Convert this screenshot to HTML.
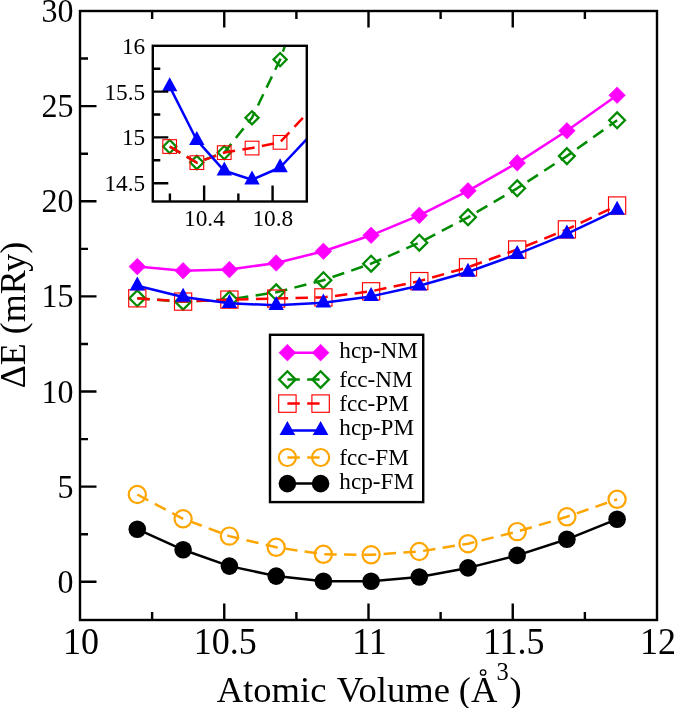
<!DOCTYPE html><html><head><meta charset="utf-8"><style>html,body{margin:0;padding:0;background:#fff;overflow:hidden}svg{display:block;will-change:transform}text{font-family:"Liberation Serif",serif;fill:#000}</style></head><body>
<svg width="675" height="708" viewBox="0 0 675 708">
<defs><clipPath id="cm"><rect x="80" y="11" width="577" height="609"/></clipPath><clipPath id="ci"><rect x="152.8" y="45.8" width="154" height="155.7"/></clipPath></defs>
<g clip-path="url(#cm)">
<polyline points="137.3,266.6 183.1,270.7 229.4,269.6 276.2,263.0 323.4,251.3 371.1,235.3 419.3,215.4 468.0,190.8 517.2,162.9 566.9,130.8 617.1,95.2" fill="none" stroke="#ff00ff" stroke-width="2.5" stroke-linejoin="round"/>
<path d="M137.3 258.3L145.6 266.6L137.3 274.9L129.0 266.6Z" fill="#ff00ff" stroke="#ff00ff" stroke-width="0.6"/>
<path d="M183.1 262.4L191.4 270.7L183.1 279.0L174.8 270.7Z" fill="#ff00ff" stroke="#ff00ff" stroke-width="0.6"/>
<path d="M229.4 261.3L237.7 269.6L229.4 277.9L221.1 269.6Z" fill="#ff00ff" stroke="#ff00ff" stroke-width="0.6"/>
<path d="M276.2 254.7L284.5 263.0L276.2 271.3L267.9 263.0Z" fill="#ff00ff" stroke="#ff00ff" stroke-width="0.6"/>
<path d="M323.4 243.0L331.7 251.3L323.4 259.6L315.1 251.3Z" fill="#ff00ff" stroke="#ff00ff" stroke-width="0.6"/>
<path d="M371.1 227.0L379.4 235.3L371.1 243.6L362.8 235.3Z" fill="#ff00ff" stroke="#ff00ff" stroke-width="0.6"/>
<path d="M419.3 207.1L427.6 215.4L419.3 223.7L411.0 215.4Z" fill="#ff00ff" stroke="#ff00ff" stroke-width="0.6"/>
<path d="M468.0 182.5L476.3 190.8L468.0 199.1L459.7 190.8Z" fill="#ff00ff" stroke="#ff00ff" stroke-width="0.6"/>
<path d="M517.2 154.6L525.5 162.9L517.2 171.2L508.9 162.9Z" fill="#ff00ff" stroke="#ff00ff" stroke-width="0.6"/>
<path d="M566.9 122.5L575.2 130.8L566.9 139.1L558.6 130.8Z" fill="#ff00ff" stroke="#ff00ff" stroke-width="0.6"/>
<path d="M617.1 86.9L625.4 95.2L617.1 103.5L608.8 95.2Z" fill="#ff00ff" stroke="#ff00ff" stroke-width="0.6"/>
<polyline points="137.3,298.3 183.1,301.7 229.4,299.5 276.2,292.3 323.4,280.2 371.1,263.7 419.3,242.7 468.0,217.3 517.2,188.3 566.9,156.1 617.1,120.3" fill="none" stroke="#008b00" stroke-width="2.5" stroke-dasharray="12.4 7.4" stroke-linejoin="round"/>
<path d="M137.3 290.4L145.2 298.3L137.3 306.2L129.4 298.3Z" fill="none" stroke="#008b00" stroke-width="2.3"/>
<path d="M183.1 293.8L191.0 301.7L183.1 309.6L175.2 301.7Z" fill="none" stroke="#008b00" stroke-width="2.3"/>
<path d="M229.4 291.6L237.3 299.5L229.4 307.4L221.5 299.5Z" fill="none" stroke="#008b00" stroke-width="2.3"/>
<path d="M276.2 284.4L284.1 292.3L276.2 300.2L268.3 292.3Z" fill="none" stroke="#008b00" stroke-width="2.3"/>
<path d="M323.4 272.3L331.3 280.2L323.4 288.1L315.5 280.2Z" fill="none" stroke="#008b00" stroke-width="2.3"/>
<path d="M371.1 255.8L379.0 263.7L371.1 271.6L363.2 263.7Z" fill="none" stroke="#008b00" stroke-width="2.3"/>
<path d="M419.3 234.8L427.2 242.7L419.3 250.6L411.4 242.7Z" fill="none" stroke="#008b00" stroke-width="2.3"/>
<path d="M468.0 209.4L475.9 217.3L468.0 225.2L460.1 217.3Z" fill="none" stroke="#008b00" stroke-width="2.3"/>
<path d="M517.2 180.4L525.1 188.3L517.2 196.2L509.3 188.3Z" fill="none" stroke="#008b00" stroke-width="2.3"/>
<path d="M566.9 148.2L574.8 156.1L566.9 164.0L559.0 156.1Z" fill="none" stroke="#008b00" stroke-width="2.3"/>
<path d="M617.1 112.4L625.0 120.3L617.1 128.2L609.2 120.3Z" fill="none" stroke="#008b00" stroke-width="2.3"/>
<polyline points="137.3,298.3 183.1,301.6 229.4,299.6 276.2,298.6 323.4,297.4 371.1,291.3 419.3,281.1 468.0,267.3 517.2,249.5 566.9,229.4 617.1,205.5" fill="none" stroke="#ff0000" stroke-width="2.5" stroke-dasharray="12.4 7.4" stroke-linejoin="round"/>
<rect x="128.7" y="289.7" width="17.2" height="17.2" fill="none" stroke="#ff0000" stroke-width="1.15"/>
<rect x="174.5" y="293.0" width="17.2" height="17.2" fill="none" stroke="#ff0000" stroke-width="1.15"/>
<rect x="220.8" y="291.0" width="17.2" height="17.2" fill="none" stroke="#ff0000" stroke-width="1.15"/>
<rect x="267.6" y="290.0" width="17.2" height="17.2" fill="none" stroke="#ff0000" stroke-width="1.15"/>
<rect x="314.8" y="288.8" width="17.2" height="17.2" fill="none" stroke="#ff0000" stroke-width="1.15"/>
<rect x="362.5" y="282.7" width="17.2" height="17.2" fill="none" stroke="#ff0000" stroke-width="1.15"/>
<rect x="410.7" y="272.5" width="17.2" height="17.2" fill="none" stroke="#ff0000" stroke-width="1.15"/>
<rect x="459.4" y="258.7" width="17.2" height="17.2" fill="none" stroke="#ff0000" stroke-width="1.15"/>
<rect x="508.6" y="240.9" width="17.2" height="17.2" fill="none" stroke="#ff0000" stroke-width="1.15"/>
<rect x="558.3" y="220.8" width="17.2" height="17.2" fill="none" stroke="#ff0000" stroke-width="1.15"/>
<rect x="608.5" y="196.9" width="17.2" height="17.2" fill="none" stroke="#ff0000" stroke-width="1.15"/>
<polyline points="137.3,285.8 183.1,297.0 229.4,303.3 276.2,305.2 323.4,302.7 371.1,296.4 419.3,285.8 468.0,272.0 517.2,254.2 566.9,233.8 617.1,210.1" fill="none" stroke="#0000ff" stroke-width="2.5" stroke-linejoin="round"/>
<path d="M137.3 276.5L145.0 290.5L129.6 290.5Z" fill="#0000ff"/>
<path d="M183.1 287.7L190.8 301.7L175.4 301.7Z" fill="#0000ff"/>
<path d="M229.4 294.0L237.1 308.0L221.7 308.0Z" fill="#0000ff"/>
<path d="M276.2 295.9L283.9 309.9L268.5 309.9Z" fill="#0000ff"/>
<path d="M323.4 293.4L331.1 307.4L315.7 307.4Z" fill="#0000ff"/>
<path d="M371.1 287.1L378.8 301.1L363.4 301.1Z" fill="#0000ff"/>
<path d="M419.3 276.5L427.0 290.5L411.6 290.5Z" fill="#0000ff"/>
<path d="M468.0 262.7L475.7 276.7L460.3 276.7Z" fill="#0000ff"/>
<path d="M517.2 244.9L524.9 258.9L509.5 258.9Z" fill="#0000ff"/>
<path d="M566.9 224.5L574.6 238.5L559.2 238.5Z" fill="#0000ff"/>
<path d="M617.1 200.8L624.8 214.8L609.4 214.8Z" fill="#0000ff"/>
<polyline points="137.3,494.5 183.1,518.8 229.4,536.1 276.2,547.3 323.4,554.3 371.1,554.8 419.3,551.5 468.0,543.7 517.2,531.6 566.9,516.8 617.1,499.3" fill="none" stroke="#ffa500" stroke-width="2.5" stroke-dasharray="12.4 7.4" stroke-linejoin="round"/>
<circle cx="137.3" cy="494.5" r="8.6" fill="none" stroke="#ffa500" stroke-width="2.2"/>
<circle cx="183.1" cy="518.8" r="8.6" fill="none" stroke="#ffa500" stroke-width="2.2"/>
<circle cx="229.4" cy="536.1" r="8.6" fill="none" stroke="#ffa500" stroke-width="2.2"/>
<circle cx="276.2" cy="547.3" r="8.6" fill="none" stroke="#ffa500" stroke-width="2.2"/>
<circle cx="323.4" cy="554.3" r="8.6" fill="none" stroke="#ffa500" stroke-width="2.2"/>
<circle cx="371.1" cy="554.8" r="8.6" fill="none" stroke="#ffa500" stroke-width="2.2"/>
<circle cx="419.3" cy="551.5" r="8.6" fill="none" stroke="#ffa500" stroke-width="2.2"/>
<circle cx="468.0" cy="543.7" r="8.6" fill="none" stroke="#ffa500" stroke-width="2.2"/>
<circle cx="517.2" cy="531.6" r="8.6" fill="none" stroke="#ffa500" stroke-width="2.2"/>
<circle cx="566.9" cy="516.8" r="8.6" fill="none" stroke="#ffa500" stroke-width="2.2"/>
<circle cx="617.1" cy="499.3" r="8.6" fill="none" stroke="#ffa500" stroke-width="2.2"/>
<polyline points="137.3,529.2 183.1,549.8 229.4,566.1 276.2,576.1 323.4,581.3 371.1,581.3 419.3,577.0 468.0,567.9 517.2,555.4 566.9,539.3 617.1,519.2" fill="none" stroke="#000000" stroke-width="2.5" stroke-linejoin="round"/>
<circle cx="137.3" cy="529.2" r="8.8" fill="#000000" stroke="none" stroke-width="0"/>
<circle cx="183.1" cy="549.8" r="8.8" fill="#000000" stroke="none" stroke-width="0"/>
<circle cx="229.4" cy="566.1" r="8.8" fill="#000000" stroke="none" stroke-width="0"/>
<circle cx="276.2" cy="576.1" r="8.8" fill="#000000" stroke="none" stroke-width="0"/>
<circle cx="323.4" cy="581.3" r="8.8" fill="#000000" stroke="none" stroke-width="0"/>
<circle cx="371.1" cy="581.3" r="8.8" fill="#000000" stroke="none" stroke-width="0"/>
<circle cx="419.3" cy="577.0" r="8.8" fill="#000000" stroke="none" stroke-width="0"/>
<circle cx="468.0" cy="567.9" r="8.8" fill="#000000" stroke="none" stroke-width="0"/>
<circle cx="517.2" cy="555.4" r="8.8" fill="#000000" stroke="none" stroke-width="0"/>
<circle cx="566.9" cy="539.3" r="8.8" fill="#000000" stroke="none" stroke-width="0"/>
<circle cx="617.1" cy="519.2" r="8.8" fill="#000000" stroke="none" stroke-width="0"/>
</g>
<rect x="80" y="11" width="577" height="609" fill="none" stroke="#000" stroke-width="2.4"/>
<path d="M152.12 620V612M152.12 11V19M224.25 620V603.5M224.25 11V27.5M296.38 620V612M296.38 11V19M368.50 620V603.5M368.50 11V27.5M440.62 620V612M440.62 11V19M512.75 620V603.5M512.75 11V27.5M584.88 620V612M584.88 11V19M80 581.80H96.5M80 534.23H88M80 486.66H96.5M80 439.10H88M80 391.53H96.5M80 343.96H88M80 296.39H96.5M80 248.83H88M80 201.26H96.5M80 153.69H88M80 106.12H96.5M80 58.56H88" stroke="#000" stroke-width="2.4" fill="none"/>
<text transform="translate(81.00,654.00) scale(1,1.05)" font-size="36" text-anchor="middle">10</text>
<text transform="translate(225.25,654.00) scale(1,1.05)" font-size="36" text-anchor="middle">10.5</text>
<text transform="translate(369.50,654.00) scale(1,1.05)" font-size="36" text-anchor="middle">11</text>
<text transform="translate(513.75,654.00) scale(1,1.05)" font-size="36" text-anchor="middle">11.5</text>
<text transform="translate(658.00,654.00) scale(1,1.05)" font-size="36" text-anchor="middle">12</text>
<text transform="translate(73.40,592.80) scale(1,1.04)" font-size="32" text-anchor="end">0</text>
<text transform="translate(73.40,497.66) scale(1,1.04)" font-size="32" text-anchor="end">5</text>
<text transform="translate(73.40,402.53) scale(1,1.04)" font-size="32" text-anchor="end">10</text>
<text transform="translate(73.40,307.39) scale(1,1.04)" font-size="32" text-anchor="end">15</text>
<text transform="translate(73.40,212.26) scale(1,1.04)" font-size="32" text-anchor="end">20</text>
<text transform="translate(73.40,117.12) scale(1,1.04)" font-size="32" text-anchor="end">25</text>
<text transform="translate(73.40,21.99) scale(1,1.04)" font-size="32" text-anchor="end">30</text>
<text x="216.7" y="701.6" font-size="36.6">Atomic</text>
<text x="336.8" y="701.6" font-size="36.6">Volume</text>
<text x="458.8" y="701.6" font-size="36.6">(A</text>
<circle cx="483.1" cy="672.5" r="2.7" fill="none" stroke="#000" stroke-width="1.3"/>
<text x="496.6" y="679.6" font-size="24.5">3</text>
<text x="509.6" y="701.6" font-size="36.6">)</text>
<text transform="translate(24.8,315) rotate(-90)" x="0" y="0" font-size="36" text-anchor="middle">ΔE (mRy)</text>
<rect x="152.8" y="45.8" width="154" height="155.7" fill="#fff"/>
<g clip-path="url(#ci)">
<polyline points="169.7,146.6 196.8,162.5 224.3,152.6 252.0,117.8 280.1,59.6 308.4,-20.2" fill="none" stroke="#008b00" stroke-width="2.5" stroke-dasharray="12.4 7.4" stroke-linejoin="round"/>
<path d="M169.7 140.0L176.3 146.6L169.7 153.2L163.1 146.6Z" fill="none" stroke="#008b00" stroke-width="2.2"/>
<path d="M196.8 155.9L203.4 162.5L196.8 169.1L190.2 162.5Z" fill="none" stroke="#008b00" stroke-width="2.2"/>
<path d="M224.3 146.0L230.9 152.6L224.3 159.2L217.7 152.6Z" fill="none" stroke="#008b00" stroke-width="2.2"/>
<path d="M252.0 111.2L258.6 117.8L252.0 124.4L245.4 117.8Z" fill="none" stroke="#008b00" stroke-width="2.2"/>
<path d="M280.1 53.0L286.7 59.6L280.1 66.2L273.5 59.6Z" fill="none" stroke="#008b00" stroke-width="2.2"/>
<polyline points="169.7,146.5 196.8,162.7 224.3,152.6 252.0,148.0 280.1,142.3 308.4,112.0" fill="none" stroke="#ff0000" stroke-width="2.5" stroke-dasharray="12.4 7.4" stroke-linejoin="round"/>
<rect x="162.8" y="139.7" width="13.7" height="13.7" fill="none" stroke="#ff0000" stroke-width="1.1"/>
<rect x="190.0" y="155.8" width="13.7" height="13.7" fill="none" stroke="#ff0000" stroke-width="1.1"/>
<rect x="217.4" y="145.8" width="13.7" height="13.7" fill="none" stroke="#ff0000" stroke-width="1.1"/>
<rect x="245.2" y="141.2" width="13.7" height="13.7" fill="none" stroke="#ff0000" stroke-width="1.1"/>
<rect x="273.2" y="135.5" width="13.7" height="13.7" fill="none" stroke="#ff0000" stroke-width="1.1"/>
<polyline points="169.7,86.6 196.8,140.2 224.3,170.8 252.0,179.7 280.1,167.5 308.4,137.4" fill="none" stroke="#0000ff" stroke-width="2.5" stroke-linejoin="round"/>
<path d="M169.7 77.3L177.4 91.3L162.0 91.3Z" fill="#0000ff"/>
<path d="M196.8 130.9L204.5 144.9L189.1 144.9Z" fill="#0000ff"/>
<path d="M224.3 161.5L232.0 175.5L216.6 175.5Z" fill="#0000ff"/>
<path d="M252.0 170.4L259.7 184.4L244.3 184.4Z" fill="#0000ff"/>
<path d="M280.1 158.2L287.8 172.2L272.4 172.2Z" fill="#0000ff"/>
</g>
<rect x="152.8" y="45.8" width="154" height="155.7" fill="none" stroke="#000" stroke-width="2.4"/>
<path d="M169.91 201.5V193.5M204.13 201.5V185.5M238.35 201.5V193.5M272.57 201.5V185.5M152.8 183.20H168.3M152.8 160.30H160.3M152.8 137.40H168.3M152.8 114.50H160.3M152.8 91.60H168.3M152.8 68.70H160.3" stroke="#000" stroke-width="2.4" fill="none"/>
<text x="204.43" y="225.80" font-size="23.3" text-anchor="middle">10.4</text>
<text x="272.87" y="225.80" font-size="23.3" text-anchor="middle">10.8</text>
<text x="145.20" y="191.10" font-size="23.3" text-anchor="end">14.5</text>
<text x="145.20" y="145.30" font-size="23.3" text-anchor="end">15</text>
<text x="145.20" y="99.50" font-size="23.3" text-anchor="end">15.5</text>
<text x="145.20" y="53.70" font-size="23.3" text-anchor="end">16</text>
<rect x="270" y="334.8" width="153.2" height="167.3" fill="#fff" stroke="#000" stroke-width="2.4"/>
<polyline points="287.4,352.7 320.6,352.7" fill="none" stroke="#ff00ff" stroke-width="2.5" stroke-linejoin="round"/>
<path d="M287.4 344.3L295.8 352.7L287.4 361.1L279.0 352.7Z" fill="#ff00ff" stroke="#ff00ff" stroke-width="0.6"/>
<path d="M320.6 344.3L329.0 352.7L320.6 361.1L312.2 352.7Z" fill="#ff00ff" stroke="#ff00ff" stroke-width="0.6"/>
<text x="339.30" y="358.30" font-size="23.2">hcp-NM</text>
<polyline points="287.4,379.6 320.6,379.6" fill="none" stroke="#008b00" stroke-width="2.5" stroke-dasharray="12.4 7.4" stroke-linejoin="round"/>
<path d="M287.4 371.3L295.7 379.6L287.4 387.9L279.1 379.6Z" fill="none" stroke="#008b00" stroke-width="2.3"/>
<path d="M320.6 371.3L328.9 379.6L320.6 387.9L312.3 379.6Z" fill="none" stroke="#008b00" stroke-width="2.3"/>
<text x="339.30" y="386.70" font-size="23.2">fcc-NM</text>
<polyline points="287.4,403.6 320.6,403.6" fill="none" stroke="#ff0000" stroke-width="2.5" stroke-dasharray="12.4 7.4" stroke-linejoin="round"/>
<rect x="278.7" y="394.9" width="17.4" height="17.4" fill="none" stroke="#ff0000" stroke-width="1.15"/>
<rect x="311.9" y="394.9" width="17.4" height="17.4" fill="none" stroke="#ff0000" stroke-width="1.15"/>
<text x="339.30" y="411.30" font-size="23.2">fcc-PM</text>
<polyline points="287.4,430.4 320.6,430.4" fill="none" stroke="#0000ff" stroke-width="2.5" stroke-linejoin="round"/>
<path d="M287.4 420.9L295.2 435.1L279.6 435.1Z" fill="#0000ff"/>
<path d="M320.6 420.9L328.4 435.1L312.8 435.1Z" fill="#0000ff"/>
<text x="339.30" y="435.30" font-size="23.2">hcp-PM</text>
<polyline points="287.4,457.5 320.6,457.5" fill="none" stroke="#ffa500" stroke-width="2.5" stroke-dasharray="12.4 7.4" stroke-linejoin="round"/>
<circle cx="287.4" cy="457.5" r="8.5" fill="none" stroke="#ffa500" stroke-width="2.2"/>
<circle cx="320.6" cy="457.5" r="8.5" fill="none" stroke="#ffa500" stroke-width="2.2"/>
<text x="339.30" y="465.00" font-size="23.2">fcc-FM</text>
<polyline points="287.4,483.6 320.6,483.6" fill="none" stroke="#000000" stroke-width="2.5" stroke-linejoin="round"/>
<circle cx="287.4" cy="483.6" r="8.8" fill="#000000" stroke="none" stroke-width="0"/>
<circle cx="320.6" cy="483.6" r="8.8" fill="#000000" stroke="none" stroke-width="0"/>
<text x="339.30" y="489.00" font-size="23.2">hcp-FM</text>
</svg></body></html>
